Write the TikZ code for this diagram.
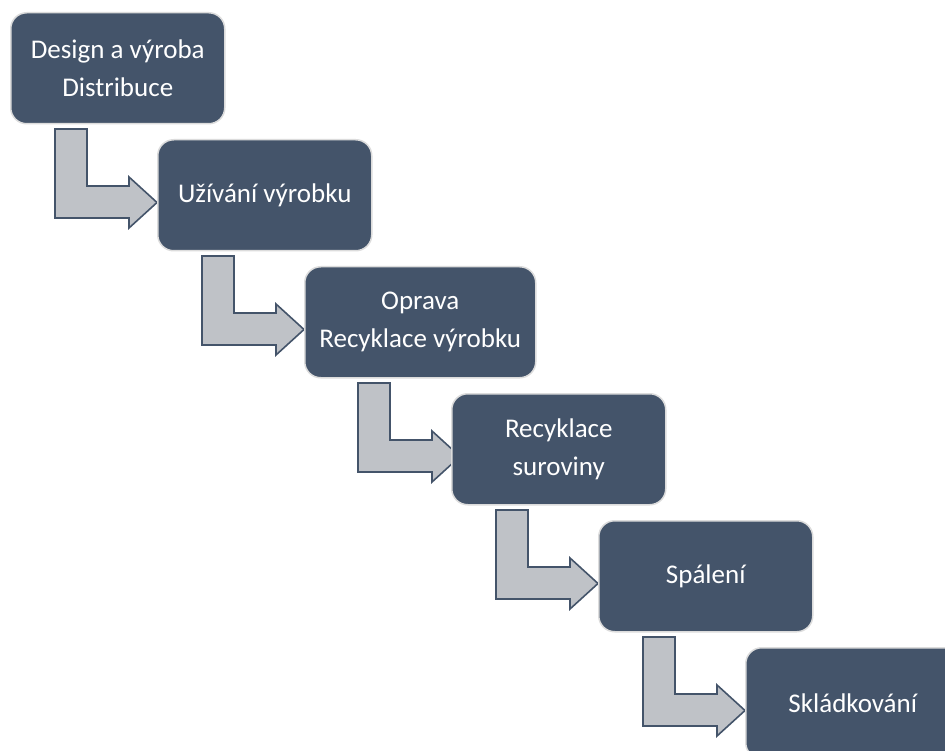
\documentclass[tikz,border=0pt]{standalone}
\usepackage{fontspec}
\setmainfont{Carlito}
\usetikzlibrary{backgrounds}
\definecolor{slate}{HTML}{44546A}
\definecolor{arrgray}{HTML}{BFC2C7}
\definecolor{rim}{HTML}{DCDCDC}
\tikzset{
  stagebox/.style={draw=rim, line width=1.5pt, fill=slate, rounded corners=16pt,
    minimum width=214pt, minimum height=111pt, anchor=north west, inner sep=0pt,
    align=center, text=white, font=\fontsize{27}{38}\selectfont},
  bentarrow/.style={draw=slate, line width=1.6pt, fill=arrgray, line join=miter}
}
\newcommand{\bentarr}[2]{%
  \begin{scope}[shift={(#1.north west)}, xshift=#2]
    \draw[bentarrow] (45,117) -- (77,117) -- (77,174) -- (119,174) -- (119,165)
      -- (147,190.5) -- (119,216) -- (119,206) -- (45,206) -- cycle;
  \end{scope}}
\begin{document}
\begin{tikzpicture}[x=1pt,y=-1pt]
\useasboundingbox (0,0) rectangle (945,751);
\node[stagebox] (b1) at (10,12) {Design a výroba\\Distribuce};
\node[stagebox] (b2) at (157,139) {Užívání výrobku};
\node[stagebox, minimum width=231pt] (b3) at (304,266) {Oprava\\Recyklace výrobku};
\node[stagebox] (b4) at (451,393) {Recyklace\\suroviny};
\node[stagebox] (b5) at (598,520) {Spálení};
\node[stagebox] (b6) at (745,647) {Skládkování};
\begin{pgfonlayer}{background}
\fill[white] (0,0) rectangle (945,751);
\bentarr{b1}{0pt}
\bentarr{b2}{0pt}
\bentarr{b3}{9pt}
\bentarr{b4}{0pt}
\bentarr{b5}{0pt}
\end{pgfonlayer}
\end{tikzpicture}
\end{document}
